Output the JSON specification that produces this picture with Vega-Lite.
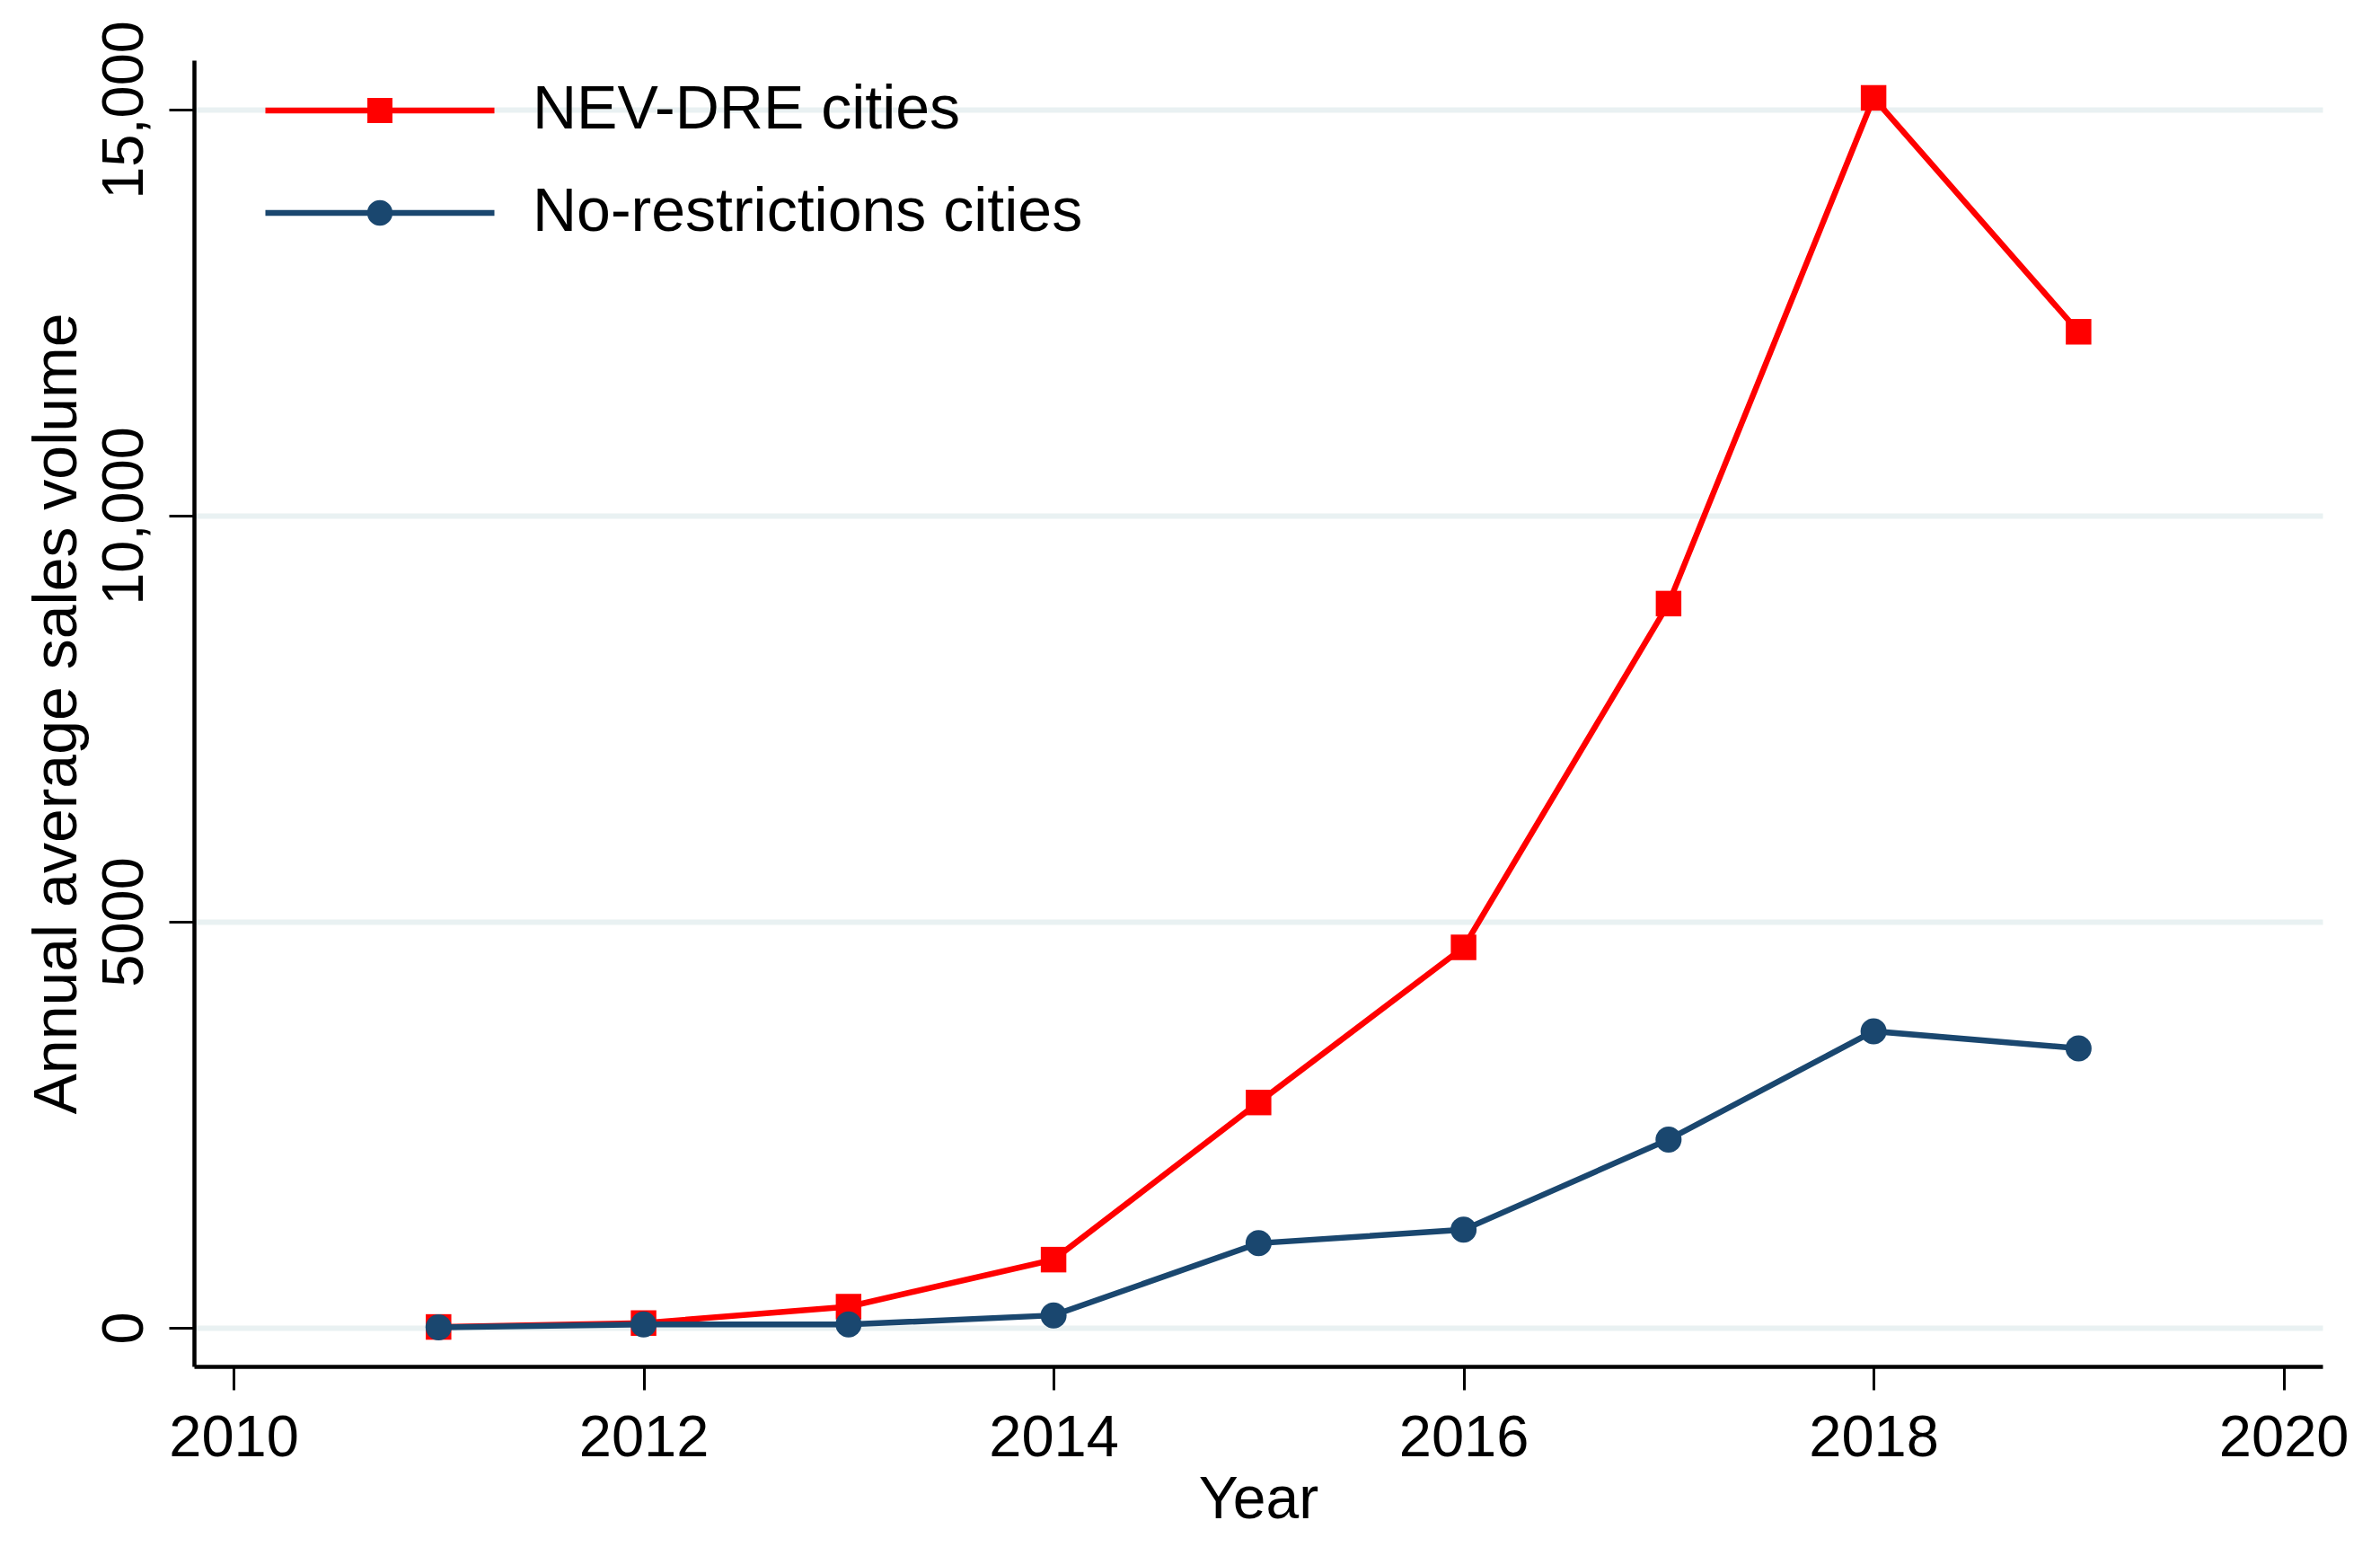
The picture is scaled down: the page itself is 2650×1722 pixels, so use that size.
{
  "$schema": "https://vega.github.io/schema/vega-lite/v6.json",
  "description": "Annual average NEV sales volume, NEV-DRE cities vs no-restrictions cities, 2011-2019.",
  "autosize": {"type": "none"},
  "padding": {"left": 216, "top": 67, "right": 64, "bottom": 201},
  "width": 2370,
  "height": 1454,
  "background": "white",
  "data": {
    "values": [
      {"year": 2011, "series": "NEV-DRE cities", "sales": 10},
      {"year": 2012, "series": "NEV-DRE cities", "sales": 58},
      {"year": 2013, "series": "NEV-DRE cities", "sales": 260},
      {"year": 2014, "series": "NEV-DRE cities", "sales": 839},
      {"year": 2015, "series": "NEV-DRE cities", "sales": 2774},
      {"year": 2016, "series": "NEV-DRE cities", "sales": 4684},
      {"year": 2017, "series": "NEV-DRE cities", "sales": 8917},
      {"year": 2018, "series": "NEV-DRE cities", "sales": 15144},
      {"year": 2019, "series": "NEV-DRE cities", "sales": 12264},
      {"year": 2011, "series": "No-restrictions cities", "sales": 5},
      {"year": 2012, "series": "No-restrictions cities", "sales": 40},
      {"year": 2013, "series": "No-restrictions cities", "sales": 40},
      {"year": 2014, "series": "No-restrictions cities", "sales": 153},
      {"year": 2015, "series": "No-restrictions cities", "sales": 1041},
      {"year": 2016, "series": "No-restrictions cities", "sales": 1207},
      {"year": 2017, "series": "No-restrictions cities", "sales": 2318},
      {"year": 2018, "series": "No-restrictions cities", "sales": 3651},
      {"year": 2019, "series": "No-restrictions cities", "sales": 3441}
    ]
  },
  "encoding": {
    "x": {
      "field": "year", "type": "quantitative", "title": "Year",
      "scale": {"domain": [2009.807, 2020.19], "nice": false, "zero": false},
      "axis": {
        "values": [2010, 2012, 2014, 2016, 2018, 2020], "format": "d",
        "grid": false, "tickSize": 26, "tickWidth": 3, "domainWidth": 4.5,
        "labelPadding": 22, "titlePadding": 4, "titleFontSize": 66
      }
    },
    "y": {
      "field": "sales", "type": "quantitative", "title": "Annual average sales volume",
      "scale": {"domain": [-476, 15608], "nice": false, "zero": false},
      "axis": {
        "values": [0, 5000, 10000, 15000],
        "labelExpr": "datum.value >= 10000 ? format(datum.value, ',') : format(datum.value, 'd')",
        "labelAngle": -90, "labelAlign": "center", "labelBaseline": "alphabetic",
        "labelPadding": 30, "labelLimit": 1000, "labelOverlap": false,
        "tickSize": 28, "tickWidth": 3, "domainWidth": 4.5,
        "grid": true, "gridColor": "#e9f1f2", "gridWidth": 6,
        "titlePadding": 8, "titleFontSize": 68
      }
    },
    "color": {
      "field": "series", "type": "nominal",
      "scale": {"domain": ["NEV-DRE cities", "No-restrictions cities"], "range": ["#ff0000", "#1a476f"]},
      "legend": {
        "title": null, "orient": "none", "legendX": 173, "legendY": 22,
        "padding": 0, "symbolSize": 900, "labelOffset": 136, "rowPadding": 46,
        "labelFontSize": 68, "labelFont": "Liberation Sans", "labelColor": "black",
        "labelLimit": 1000,
        "encode": {
          "symbols": {
            "update": {
              "shape": {"signal": "datum.value === 'NEV-DRE cities' ? 'M-8.5,-0.21H8.5V0.21H-8.5Z M-0.93,-0.93H0.93V0.93H-0.93Z' : 'M-8.5,-0.21H8.5V0.21H-8.5Z M-0.95,0A0.95,0.95,0,1,1,0.95,0A0.95,0.95,0,1,1,-0.95,0Z'"},
              "fill": {"signal": "scale('color', datum.value)"},
              "strokeWidth": {"value": 0},
              "opacity": {"value": 1}
            }
          }
        }
      }
    }
  },
  "layer": [
    {
      "transform": [{"filter": "datum.series === 'NEV-DRE cities'"}],
      "mark": {"type": "line", "strokeWidth": 6.5, "point": {"filled": true, "shape": "square", "size": 810, "opacity": 1}}
    },
    {
      "transform": [{"filter": "datum.series === 'No-restrictions cities'"}],
      "mark": {"type": "line", "strokeWidth": 6.5, "point": {"filled": true, "shape": "circle", "size": 840, "opacity": 1}}
    }
  ],
  "config": {
    "font": "Liberation Sans",
    "view": {"stroke": null},
    "axis": {
      "labelFont": "Liberation Sans", "titleFont": "Liberation Sans",
      "labelFontSize": 65, "titleFontWeight": "normal",
      "labelColor": "black", "titleColor": "black", "domainColor": "black", "tickColor": "black"
    }
  }
}
